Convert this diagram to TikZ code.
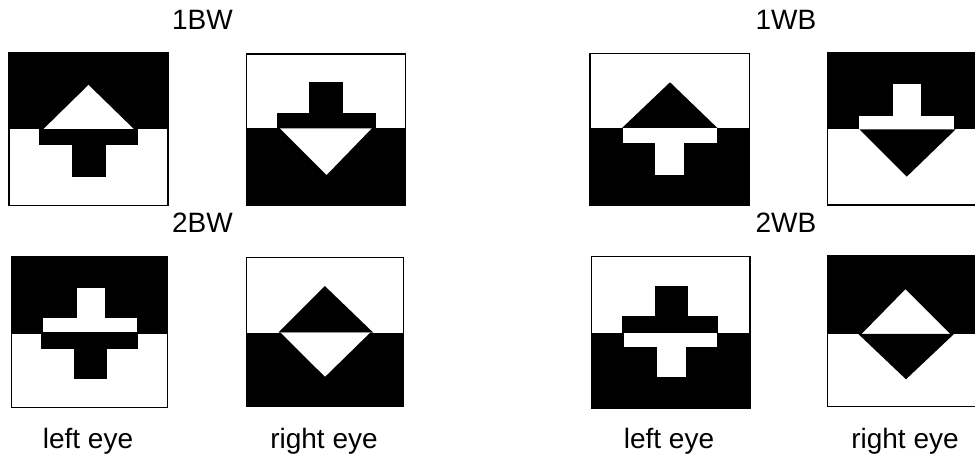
\documentclass[tikz,border=0pt]{standalone}
\usepackage{fontspec}
\setmainfont{Liberation Sans}
\begin{document}
\begin{tikzpicture}[x=1pt,y=-1pt,
  lbl/.style={font=\fontsize{28}{31}\selectfont, inner sep=0pt, anchor=base},
  frame/.style={draw=black, line width=1.5pt},
  blk/.style={fill=black},
  wht/.style={fill=white}]
\useasboundingbox (0,0) rectangle (975,454);
\clip (0,0) rectangle (975,454);
% ---------- Panel 1: 1BW left eye
\fill[blk] (9,52.7) rectangle (168,129.3);
\fill[wht] (43.3,129.3) -- (88.5,85) -- (134,129.3) -- cycle;
\fill[blk] (39.3,129.3) rectangle (138.3,145.3);
\fill[blk] (72.3,145.3) rectangle (106,176.7);
\draw[frame] (9,52.7) rectangle (168,205.7);
% ---------- Panel 2: 1BW right eye
\fill[blk] (246.7,128.3) rectangle (405.7,205.7);
\fill[blk] (309,82.3) rectangle (343.3,113.3);
\fill[blk] (277.3,113.3) rectangle (375.7,128.3);
\fill[wht] (280,128.3) -- (326.5,175) -- (371.7,128.3) -- cycle;
\draw[frame] (246.7,54) rectangle (405.7,205.7);
% ---------- Panel 3: 2BW left eye
\fill[blk] (11.7,256.7) rectangle (167.7,334);
\fill[wht] (76.7,288.3) rectangle (105.3,317.7);
\fill[wht] (43.3,317.7) rectangle (136.7,332.3);
\fill[blk] (41,334) rectangle (138.3,349);
\fill[blk] (74,349) rectangle (107.3,379.3);
\draw[frame] (11.7,256.7) rectangle (167.7,407.3);
% ---------- Panel 4: 2BW right eye
\fill[blk] (246.7,332.7) rectangle (403.3,406.7);
\fill[blk] (278.3,332.7) -- (324.8,286) -- (373.3,332.7) -- cycle;
\fill[wht] (280.7,332.7) -- (325,376.7) -- (370,332.7) -- cycle;
\draw[frame] (246.7,257.3) rectangle (403.3,406.7);
% ---------- Panel 5: 1WB left eye
\fill[blk] (590,128.3) rectangle (749.3,205.7);
\fill[blk] (621.7,128.3) -- (670,82.3) -- (717.7,128.3) -- cycle;
\fill[wht] (623.3,128.3) rectangle (716.7,143.3);
\fill[wht] (655,143.3) rectangle (684,175);
\draw[frame] (590,53.3) rectangle (749.3,205.7);
% ---------- Panel 6: 1WB right eye
\fill[blk] (827.3,52.7) rectangle (986,129.3);
\fill[wht] (892.7,84.3) rectangle (920.7,116);
\fill[wht] (859.3,116) rectangle (954.3,129.3);
\fill[blk] (859.3,129.3) -- (906.7,176.7) -- (955.7,129.3) -- cycle;
\draw[frame] (827.3,52.7) rectangle (986,205);
% ---------- Panel 7: 2WB left eye
\fill[blk] (591.7,332.7) rectangle (750,408.3);
\fill[blk] (655,286) rectangle (687.7,316);
\fill[blk] (621.7,316) rectangle (718.3,332.7);
\fill[wht] (624,332.7) rectangle (716.7,347.3);
\fill[wht] (657.3,347.3) rectangle (686,377.3);
\draw[frame] (591.7,256.7) rectangle (750,408.3);
% ---------- Panel 8: 2WB right eye
\fill[blk] (827.3,256) rectangle (986,334);
\fill[wht] (861.7,334) -- (905.5,289.3) -- (950,334) -- cycle;
\fill[blk] (858.3,334) -- (906,379.3) -- (954,334) -- cycle;
\draw[frame] (827.3,256) rectangle (986,406.7);
% ---------- Labels
\node[lbl] (t1bw) at (202.5,30) {1BW};
\node[lbl] (t2bw) at (202.5,233) {2BW};
\node[lbl] (t1wb) at (786,30) {1WB};
\node[lbl] (t2wb) at (786,233) {2WB};
\node[lbl] (le1) at (88,448) {left eye};
\node[lbl] (re1) at (324,448) {right eye};
\node[lbl] (le2) at (669,448) {left eye};
\node[lbl] (re2) at (905,448) {right eye};
\end{tikzpicture}
\end{document}
